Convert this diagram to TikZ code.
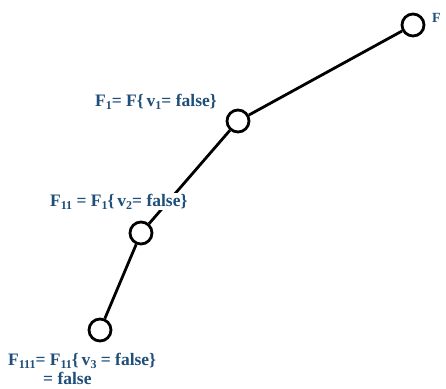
\documentclass[tikz,border=0pt]{standalone}
\usepackage{fontspec}
\setmainfont{Liberation Serif}
\definecolor{lblue}{HTML}{1F4E79}
\newcommand{\sbs}[1]{\raisebox{-0.4ex}{\fontsize{12}{13}\selectfont #1}}
\begin{document}
\begin{tikzpicture}[x=1pt,y=-1pt,
  vtx/.style={circle,draw=black,line width=2.8pt,minimum size=22pt,inner sep=0pt},
  edge/.style={draw=black,line width=2.8pt},
  lbl/.style={text=lblue,fill=white,font=\bfseries\fontsize{17.5}{19}\selectfont,inner sep=1pt}]
\useasboundingbox (0,0) rectangle (446,388);
\node[vtx] (n0) at (413,25) {};
\node[vtx] (n1) at (238,121) {};
\node[vtx] (n2) at (141,233) {};
\node[vtx] (n3) at (100,330) {};
\draw[edge] (n0) -- (n1);
\draw[edge] (n1) -- (n2);
\draw[edge] (n2) -- (n3);
\node[lbl,fill=none,inner sep=0pt,anchor=base west,font=\bfseries\fontsize{14}{15}\selectfont] (t0) at (432,22) {F};
\node[lbl,anchor=base west] (t1) at (94,106) {F\sbs{1}= F\{\,v\sbs{1}= false\}};
\node[lbl,anchor=base west] (t2) at (49,206) {F\sbs{11} = F\sbs{1}\{\,v\sbs{2}= false\}};
\node[lbl,anchor=base west] (t3) at (7,365) {F\sbs{111}= F\sbs{11}\{\,v\sbs{3} = false\}};
\node[lbl,fill=none,inner sep=0pt,anchor=base west] (t4) at (43,384) {= false};
\end{tikzpicture}
\end{document}
